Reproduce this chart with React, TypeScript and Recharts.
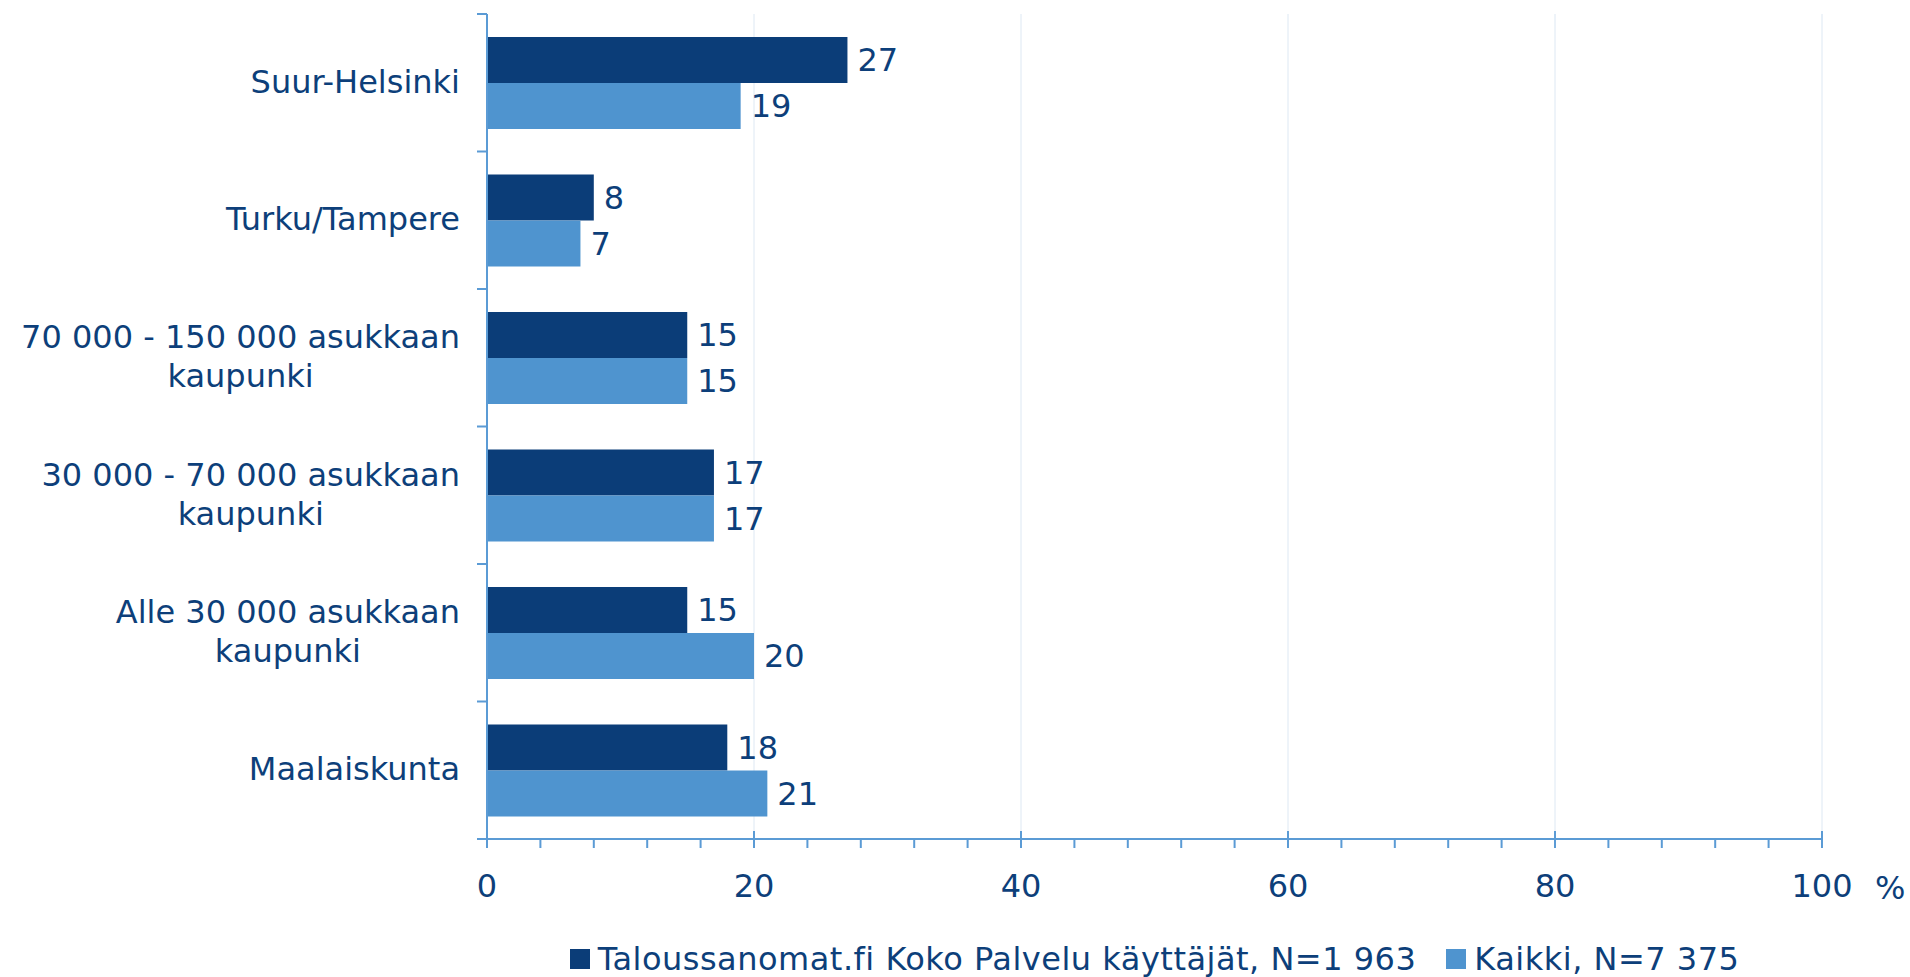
import { BarChart, Bar, XAxis, YAxis, CartesianGrid, Legend, LabelList } from 'recharts'

const categories = [
  'Suur-Helsinki',
  'Turku/Tampere',
  '70 000 - 150 000 asukkaan kaupunki',
  '30 000 - 70 000 asukkaan kaupunki',
  'Alle 30 000 asukkaan kaupunki',
  'Maalaiskunta',
]
const tsUsers = [27, 8, 15, 17, 15, 18]
const allUsers = [19, 7, 15, 17, 20, 21]
const seriesNames = ['Taloussanomat.fi Koko Palvelu käyttäjät, N=1 963', 'Kaikki, N=7 375']
const xTicks = [0, 4, 8, 12, 16, 20, 24, 28, 32, 36, 40, 44, 48, 52, 56, 60, 64, 68, 72, 76, 80, 84, 88, 92, 96, 100]
const gridValues = [20, 40, 60, 80, 100]

const DARK = '#0b3d78'
const LIGHT = '#4f94cf'
const AXIS = '#5b9bd5'
const TEXT = '#0d3f7a'
const FONT = '"DejaVu Sans", Verdana, sans-serif'
const FS = 32

const W = 1910
const H = 977
const AXIS_Y = 839
const MARGIN = { top: 14, right: 88, left: 0, bottom: 0 }
const LEGEND_H = 36
const X_AXIS_H = H - AXIS_Y - LEGEND_H
const Y_AXIS_W = 487
const PLOT_H = AXIS_Y - MARGIN.top
const BAND = PLOT_H / categories.length

const data = categories.map((c, i) => ({ name: c, ts: tsUsers[i], all: allUsers[i] }))

let ctx: CanvasRenderingContext2D | null = null
function measure(s: string) {
  if (!ctx) ctx = document.createElement('canvas').getContext('2d')
  if (!ctx) return s.length * FS * 0.6
  ctx.font = `${FS}px ${FONT}`
  return ctx.measureText(s).width
}

function wrap(s: string, max: number) {
  const words = s.split(' ')
  const lines: string[] = []
  let cur = ''
  for (const w of words) {
    const next = cur ? cur + ' ' + w : w
    if (cur && measure(next) > max) {
      lines.push(cur)
      cur = w
    } else cur = next
  }
  if (cur) lines.push(cur)
  return lines
}

// vertical grid only at the labelled values, drawn under the bars
function gridX(props: any) {
  const scale = props.xAxis?.scale
  if (typeof scale === 'function') return gridValues.map(v => scale(v))
  if (scale && typeof scale.map === 'function') return gridValues.map(v => scale.map(v))
  const o = props.offset ?? {}
  const left = o.left ?? Y_AXIS_W
  const width = o.width ?? W - Y_AXIS_W - MARGIN.right
  return gridValues.map(v => left + (v / 100) * width)
}

function YTick({ x, y, payload, index }: any) {
  const lines = wrap(payload.value, 470)
  const blockW = Math.max(...lines.map(measure))
  const cx = x - 27 - blockW / 2
  const lh = 39
  const first = y - ((lines.length - 1) * lh) / 2
  return (
    <g>
      <line x1={x - 10} x2={x} y1={y - BAND / 2} y2={y - BAND / 2} stroke={AXIS} strokeWidth={2} />
      {index === categories.length - 1 && (
        <line x1={x - 10} x2={x} y1={y + BAND / 2} y2={y + BAND / 2} stroke={AXIS} strokeWidth={2} />
      )}
      {lines.map((l, i) => (
        <text key={i} x={cx} y={first + i * lh + 10} textAnchor="middle" fill={TEXT} fontSize={FS} fontFamily={FONT}>
          {l}
        </text>
      ))}
    </g>
  )
}

function XTick({ x, y, payload }: any) {
  const major = payload.value % 20 === 0
  return (
    <g>
      <line x1={x} x2={x} y1={major ? y - 8 : y} y2={y + 9} stroke={AXIS} strokeWidth={2} />
      {major && (
        <text x={x} y={y + 58} textAnchor="middle" fill={TEXT} fontSize={FS} fontFamily={FONT}>
          {payload.value}
        </text>
      )}
      {payload.value === 100 && (
        <text x={x + 53} y={y + 60} textAnchor="start" fill={TEXT} fontSize={FS} fontFamily={FONT}>
          %
        </text>
      )}
    </g>
  )
}

function LegendContent() {
  const colors = [DARK, LIGHT]
  return (
    <div style={{ display: 'flex', justifyContent: 'center', alignItems: 'center', height: LEGEND_H, gap: 30 }}>
      {seriesNames.map((n, i) => (
        <div key={n} style={{ display: 'flex', alignItems: 'center' }}>
          <span style={{ width: 20, height: 20, background: colors[i], marginRight: 8, display: 'inline-block' }} />
          <span style={{ fontSize: FS, color: TEXT, fontFamily: FONT, lineHeight: `${LEGEND_H}px`, whiteSpace: 'nowrap', letterSpacing: 0.5 }}>{n}</span>
        </div>
      ))}
    </div>
  )
}

export default function App() {
  return (
    <div style={{ position: 'absolute', left: 0, top: 0, width: W, height: H, background: '#fff', fontFamily: FONT }}>
      <BarChart width={W} height={H} data={data} layout="vertical" margin={MARGIN} barGap={0}>
        <CartesianGrid horizontal={false} stroke="#dde8f3" strokeWidth={1} verticalCoordinatesGenerator={gridX} />
        <XAxis
          type="number"
          domain={[0, 100]}
          ticks={xTicks}
          interval={0}
          height={X_AXIS_H}
          tickSize={0}
          tickMargin={0}
          tickLine={false}
          axisLine={{ stroke: AXIS, strokeWidth: 2 }}
          tick={<XTick />}
        />
        <YAxis
          type="category"
          dataKey="name"
          width={Y_AXIS_W}
          interval={0}
          tickSize={0}
          tickMargin={0}
          tickLine={false}
          axisLine={{ stroke: AXIS, strokeWidth: 2 }}
          tick={<YTick />}
        />
        <Legend
          verticalAlign="bottom"
          content={<LegendContent />}
          wrapperStyle={{ left: Y_AXIS_W, width: W - Y_AXIS_W - MARGIN.right, height: LEGEND_H }}
        />
        <Bar dataKey="ts" name={seriesNames[0]} fill={DARK} barSize={46} isAnimationActive={false}>
          <LabelList dataKey="ts" position="right" offset={10} fill={TEXT} fontSize={FS} fontFamily={FONT} />
        </Bar>
        <Bar dataKey="all" name={seriesNames[1]} fill={LIGHT} barSize={46} isAnimationActive={false}>
          <LabelList dataKey="all" position="right" offset={10} fill={TEXT} fontSize={FS} fontFamily={FONT} />
        </Bar>
      </BarChart>
    </div>
  )
}
